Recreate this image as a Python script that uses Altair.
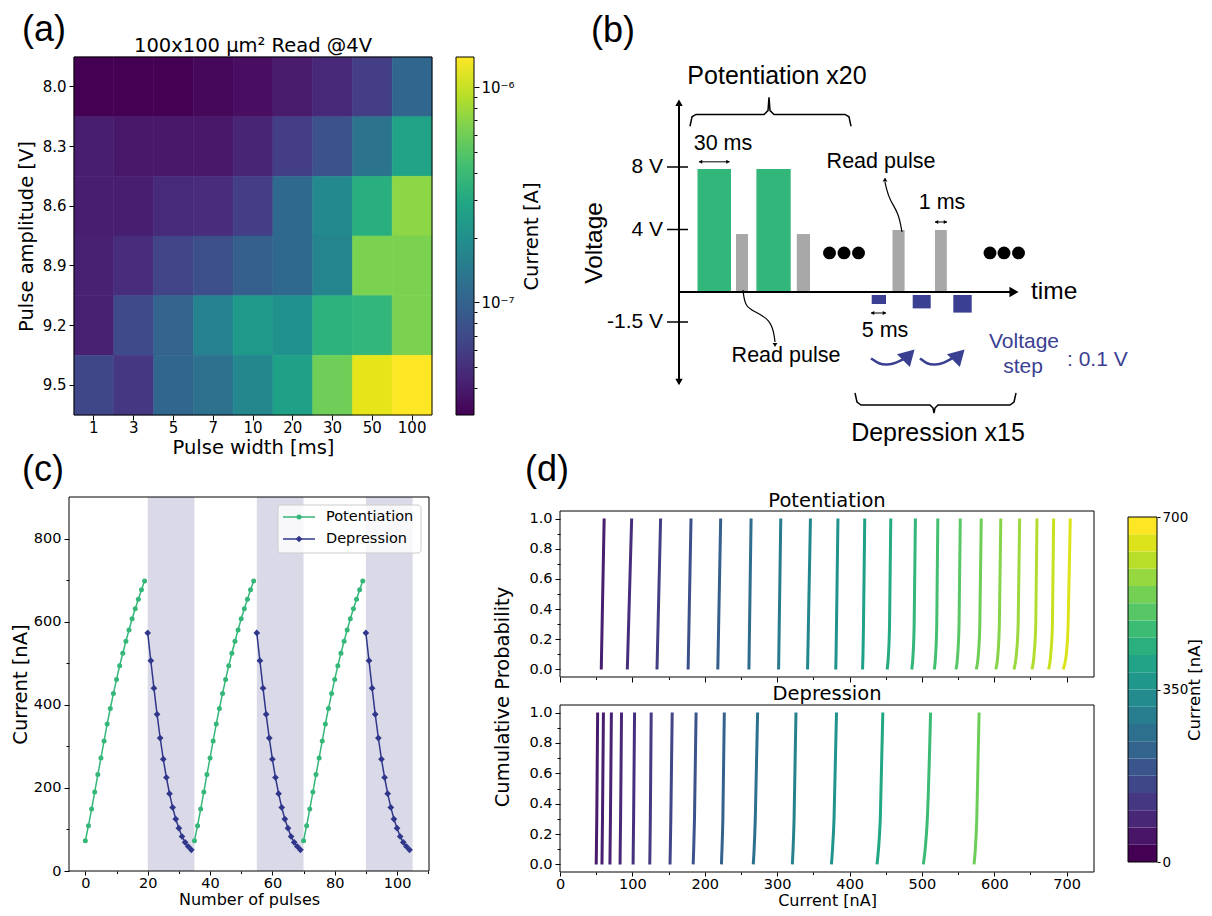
import altair as alt
import pandas as pd

W, H = 1196, 900
OFF = 8


def P(v):
    return v - OFF


DV = "DejaVu Sans"
AR = "Liberation Sans"
GREEN = "#35b779"
NAVY = "#30378a"
BLUE_B = "#3a3f92"
GRAY_B = "#a8a8a8"
SHADE = "#d9d9e8"
VIRIDIS = ["#440154", "#482475", "#414487", "#355f8d", "#2a788e", "#21918c",
           "#22a884", "#44bf70", "#7ad151", "#bddf26", "#fde725"]

# ======================= DATA =======================
# (a) heat map: read current [A]
pulse_width = ["1", "3", "5", "7", "10", "20", "30", "50", "100"]
pulse_amp = ["8.0", "8.3", "8.6", "8.9", "9.2", "9.5"]
current_80 = [3.0e-8, 3.0e-8, 3.0e-8, 3.2e-8, 3.4e-8, 3.9e-8, 4.6e-8, 6.0e-8, 1.06e-7]
current_83 = [4.1e-8, 3.8e-8, 3.8e-8, 3.8e-8, 4.4e-8, 6.0e-8, 7.8e-8, 1.29e-7, 2.77e-7]
current_86 = [4.1e-8, 4.1e-8, 4.75e-8, 4.9e-8, 6.0e-8, 1.10e-7, 1.82e-7, 3.36e-7, 7.2e-7]
current_89 = [4.2e-8, 4.9e-8, 6.45e-8, 7.5e-8, 9.5e-8, 1.10e-7, 1.69e-7, 6.45e-7, 6.45e-7]
current_92 = [4.2e-8, 7.0e-8, 1.02e-7, 1.62e-7, 2.38e-7, 2.04e-7, 3.49e-7, 3.77e-7, 6.45e-7]
current_95 = [6.7e-8, 5.5e-8, 1.06e-7, 1.24e-7, 1.75e-7, 2.67e-7, 5.98e-7, 1.19e-6, 1.38e-6]
cbar_a_range = [3.0e-8, 1.38e-6]
cbar_a_major = [1e-7, 1e-6]
cbar_a_minor = [4e-8, 5e-8, 6e-8, 7e-8, 8e-8, 9e-8, 2e-7, 3e-7, 4e-7, 5e-7, 6e-7, 7e-7, 8e-7, 9e-7]

# (b) schematic: time in arbitrary units, voltage in V
pulse_kind = ["potentiation", "read", "potentiation", "read", "read", "read",
              "depression", "depression", "depression"]
pulse_t0 = [18.5, 57, 77.4, 117.8, 213.5, 256, 192.7, 233.7, 274.3]
pulse_t1 = [52, 69, 111.7, 131, 225.6, 267.8, 207, 251.7, 292.7]
pulse_v_top = [7.87, 3.71, 7.87, 3.71, 3.97, 3.97, -0.15, -0.15, -0.15]
pulse_v_bot = [0, 0, 0, 0, 0, 0, -0.6, -0.82, -1.03]
volt_ticks = [8, 4, -1.5]
volt_tick_labels = ["8 V", "4 V", "-1.5 V"]
dots_t = [150.5, 165, 179.5, 311, 325, 339.5]
read_up_t = [223, 219.6, 210.6, 207, 206]
read_up_v = [3.84, 5.06, 5.89, 6.72, 7.04]
read_dn_t = [64, 66, 77, 91, 95, 96]
read_dn_v = [0.13, -0.75, -1.0, -1.4, -2.05, -2.5]
brace_top_t = [11, 13, 17, 85, 89, 90, 91, 95, 166, 170, 172]
brace_top_v = [10.6, 11.2, 11.35, 11.35, 11.6, 12.45, 11.6, 11.35, 11.35, 11.2, 10.6]
brace_bot_t = [176, 178, 182, 251, 254, 255, 256, 259, 331, 335, 337]
brace_bot_v = [-5.05, -5.5, -5.65, -5.65, -5.8, -6.05, -5.8, -5.65, -5.65, -5.5, -5.05]
arc1_t = [192, 200, 208, 217, 226]
arc2_t = [241, 248, 256, 265, 273]
arc_v = [-3.32, -3.6, -3.65, -3.55, -3.32]

# (c) pulse train
pot_current = [73, 109, 149, 190, 232, 272, 313, 354, 391, 427, 461, 494, 524, 553,
               580, 607, 631, 654, 677, 698]
dep_current = [573, 506, 440, 377, 320, 269, 225, 186, 153, 125, 103, 83, 69, 59, 51]
cycle_start = [0, 35, 70]
shade_start = [20, 55, 90]
shade_end = [35, 70, 105]

# (d) cumulative distributions: current [nA] at each probability level
prob_levels = [0.0, 0.1, 0.3, 1.0]
pot_cdf = [
    [57, 57.4, 58.2, 61], [93, 93.6, 94.8, 99], [134, 134.5, 135.5, 139],
    [177, 177.4, 178.2, 181], [218, 218.4, 219.2, 222], [261, 261.3, 261.9, 264],
    [302, 302.3, 302.9, 305], [342, 342.4, 343.2, 346], [381, 381.4, 382, 384],
    [418, 418.6, 419.3, 421], [452, 453.8, 455.3, 457], [486, 487.8, 489.3, 491],
    [517, 519, 520.5, 522], [547, 549.5, 551.3, 553], [575, 578, 580, 582],
    [602, 605, 607, 609], [627, 630.5, 633, 635], [652, 655, 657.3, 659],
    [675, 678, 680.3, 682], [695, 699.5, 702, 705],
]
dep_cdf = [
    [50, 50.3, 50.8, 52], [58, 58.2, 58.7, 60], [69, 69.2, 69.7, 71],
    [83, 83.2, 83.7, 85], [101, 101.2, 101.7, 103], [124, 124.3, 124.8, 126],
    [152, 152.4, 153.1, 155], [184, 184.7, 185.8, 188], [223, 223.8, 225, 227],
    [267, 268.2, 269.8, 273], [321, 322, 323.4, 326], [375, 376.5, 378.6, 382],
    [438, 440, 442.5, 446], [502, 504.5, 507.5, 512], [572, 573.8, 575.8, 579],
]
d_xlim = [0, 737.75]
d_ylim = [-0.05, 1.05]
cbar_d_edges = [0, 35, 70, 105, 140, 175, 210, 245, 280, 315, 350, 385, 420, 455,
                490, 525, 560, 595, 630, 665]
cbar_d_step = 35


# ======================= HELPERS =======================
def ax(orient, pos, **kw):
    if orient == "bottom":
        off = P(pos) - H
    elif orient == "right":
        off = P(pos) - W
    else:
        off = -P(pos)
    cfg = dict(orient=orient, offset=off, grid=False, domain=False, ticks=True,
               tickColor="black", tickSize=5, tickWidth=1,
               labelFont=DV, labelFontSize=14.5, labelColor="black", labelPadding=3,
               labelFlush=False, labelOverlap=False,
               titleFont=DV, titleFontSize=19.5, titleColor="black",
               titleFontWeight="normal")
    cfg.update(kw)
    return alt.Axis(**cfg)


ONE = pd.DataFrame({"k": [0]})


def text_at(label, x, y, size, font=DV, align="center", baseline="alphabetic",
            angle=0, color="black"):
    kw = dict(text=label, font=font, fontSize=size, align=align, baseline=baseline,
              color=color)
    if angle:
        kw["angle"] = angle
    return alt.Chart(ONE).mark_text(**kw).encode(x=alt.value(P(x)), y=alt.value(P(y)))


def frame_px(x0, x1, y0, y1, stroke="black", fill="white", fill_opacity=0.0,
             radius=0):
    kw = dict(stroke=stroke, strokeWidth=1, fill=fill, fillOpacity=fill_opacity)
    if radius:
        kw["cornerRadius"] = radius
    return alt.Chart(ONE).mark_rect(**kw).encode(
        x=alt.value(P(x0)), x2=alt.value(P(x1)), y=alt.value(P(y0)), y2=alt.value(P(y1)))


# ======================= (a) =======================
rows = []
for amp, vals in zip(pulse_amp, [current_80, current_83, current_86,
                                 current_89, current_92, current_95]):
    for w, v in zip(pulse_width, vals):
        rows.append(dict(width=w, amp=amp, current=v))
df_a = pd.DataFrame(rows)

xa = alt.Scale(domain=pulse_width, range=[P(74), P(432)], paddingInner=0, paddingOuter=0)
ya = alt.Scale(domain=pulse_amp, range=[P(57), P(415)], paddingInner=0, paddingOuter=0)
heat_scale = alt.Scale(type="log", scheme="viridis", domain=cbar_a_range)
heat = alt.Chart(df_a).mark_rect(strokeWidth=0.6).encode(
    x=alt.X("width:N", scale=xa,
            axis=ax("bottom", 415, title="Pulse width [ms]", labelAngle=0,
                    labelPadding=0, titlePadding=3, bandPosition=0.5, labelFontSize=15)),
    y=alt.Y("amp:N", scale=ya,
            axis=ax("left", 74, title="Pulse amplitude [V]", titlePadding=6,
                    bandPosition=0.5, labelFontSize=15)),
    color=alt.Color("current:Q", scale=heat_scale, legend=None),
    stroke=alt.Stroke("current:Q", scale=heat_scale, legend=None),
)
panel_a = alt.layer(heat, frame_px(74, 432, 57, 415))

df_cba = pd.DataFrame({"lo": [cbar_a_range[0]], "hi": [cbar_a_range[1]]})
ycba = alt.Scale(type="log", domain=cbar_a_range, range=[P(415), P(57)], nice=False)
grad_a = alt.Gradient(
    gradient="linear",
    stops=[alt.GradientStop(color=c, offset=i / 10) for i, c in enumerate(VIRIDIS)],
    x1=0, x2=0, y1=1, y2=0)
cba_fill = alt.Chart(df_cba).mark_rect(fill=grad_a).encode(
    x=alt.value(P(456)), x2=alt.value(P(474)),
    y=alt.Y("lo:Q", scale=ycba,
            axis=ax("right", 474, values=cbar_a_major,
                    labelExpr="datum.value > 0.0000005 ? '10⁻⁶' : '10⁻⁷'",
                    title="Current [A]", titleAngle=270, titleBaseline="top",
                    titlePadding=8, labelFontSize=15, labelPadding=2)),
    y2="hi:Q",
)
cba_minor = alt.Chart(df_cba).mark_rect(fillOpacity=0, stroke="black", strokeWidth=1).encode(
    x=alt.value(P(456)), x2=alt.value(P(474)),
    y=alt.Y("lo:Q", scale=ycba,
            axis=ax("right", 474, values=cbar_a_minor, labels=False, tickSize=3,
                    title=None)),
    y2="hi:Q",
)
cbar_a = alt.layer(cba_fill, cba_minor).resolve_axis(y="independent")

# ======================= (b) =======================
xb = alt.Scale(domain=[0, 339], range=[P(679), P(1018)], nice=False, zero=False)
yb = alt.Scale(domain=[-4.8, -1.5, 0, 8, 12.4],
               range=[P(388), P(322), P(292), P(167), P(98)], nice=False, zero=False)


def bx(f="t"):
    return alt.X(f"{f}:Q", scale=xb, axis=None)


def by(f="v"):
    return alt.Y(f"{f}:Q", scale=yb, axis=None)


df_pulses = pd.DataFrame(dict(kind=pulse_kind, t0=pulse_t0, t1=pulse_t1,
                              v0=pulse_v_bot, v1=pulse_v_top))
b_bars = alt.Chart(df_pulses).mark_rect().encode(
    x=bx("t0"), x2="t1:Q", y=by("v0"), y2="v1:Q",
    color=alt.Color("kind:N", scale=alt.Scale(domain=["potentiation", "read", "depression"],
                                              range=["#33b679", GRAY_B, BLUE_B]),
                    legend=None))


def b_seg(t0, t1, v0, v1, width, color="black"):
    df = pd.DataFrame(dict(t0=t0, t1=t1, v0=v0, v1=v1))
    return alt.Chart(df).mark_rule(strokeWidth=width, color=color).encode(
        x=bx("t0"), x2="t1:Q", y=by("v0"), y2="v1:Q")


b_axes = b_seg([0, 0], [0, 333], [-4.6, 0], [12.2, 0], 2)
b_ticks = b_seg([-12] * 3, [9] * 3, volt_ticks, volt_ticks, 1.5)
b_dims = b_seg([20, 256, 192], [50.5, 268, 207], [8.33, 4.48, -1.05], [8.33, 4.48, -1.05], 1)


def b_heads(ts, vs, shape, size, color="black", angle=0):
    kw = dict(shape=shape, size=size, filled=True, opacity=1, color=color, strokeWidth=0)
    if angle:
        kw["angle"] = angle
    return alt.Chart(pd.DataFrame(dict(t=ts, v=vs))).mark_point(**kw).encode(
        x=bx(), y=by())


heads = [
    b_heads([0], [12.1], "triangle-up", 55),
    b_heads([0], [-4.5], "triangle-down", 55),
    b_heads([335], [0], "triangle-right", 110),
    b_heads([21.5, 257.5, 193.5], [8.33, 4.48, -1.05], "triangle-left", 16),
    b_heads([49, 266.5, 205.5], [8.33, 4.48, -1.05], "triangle-right", 16),
    b_heads([206], [7.2], "triangle-up", 22),
    b_heads([96], [-2.65], "triangle-down", 22),
    b_heads([230, 280], [-3.15, -3.15], "triangle-up", 330, color=BLUE_B, angle=45),
]


def b_path(ts, vs, width, color="black", interp="linear"):
    df = pd.DataFrame(dict(t=ts, v=vs, i=list(range(len(ts)))))
    return alt.Chart(df).mark_line(strokeWidth=width, color=color,
                                   interpolate=interp).encode(x=bx(), y=by(), order="i:Q")


paths = [
    b_path(brace_top_t, brace_top_v, 1.5),
    b_path(brace_bot_t, brace_bot_v, 1.5),
    b_path(read_up_t, read_up_v, 1.2, interp="basis"),
    b_path(read_dn_t, read_dn_v, 1.2, interp="basis"),
    b_path(arc1_t, arc_v, 2.5, BLUE_B, interp="basis"),
    b_path(arc2_t, arc_v, 2.5, BLUE_B, interp="basis"),
]

b_dots = alt.Chart(pd.DataFrame(dict(t=dots_t, v=[2.5] * len(dots_t)))).mark_point(
    shape="circle", size=165, filled=True, opacity=1, color="black", strokeWidth=0).encode(
    x=bx(), y=by())


def b_text(label, t, v, size, color="black", align="center", angle=0):
    kw = dict(font=AR, fontSize=size, color=color, align=align, baseline="middle")
    if angle:
        kw["angle"] = angle
    return alt.Chart(pd.DataFrame(dict(t=[t], v=[v], s=[label]))).mark_text(**kw).encode(
        x=bx(), y=by(), text="s:N")


b_tick_labels = alt.Chart(pd.DataFrame(dict(t=[-16] * 3, v=volt_ticks, s=volt_tick_labels))
                          ).mark_text(font=AR, fontSize=21, align="right", baseline="middle",
                                      color="black").encode(x=bx(), y=by(), text="s:N")

b_texts = [
    b_tick_labels,
    b_text("Voltage", -84, 3.14, 24.5, angle=270),
    b_text("time", 352, 0, 24.5, align="left"),
    b_text("Potentiation x20", 98, 13.78, 25),
    b_text("Depression x15", 259, -7.05, 25),
    b_text("30 ms", 44, 9.49, 21.5),
    b_text("Read pulse", 202, 8.33, 21.5),
    b_text("1 ms", 263, 5.7, 21.5),
    b_text("Read pulse", 107, -3.2, 21.5),
    b_text("5 ms", 206, -1.95, 21.5),
    b_text("Voltage", 345, -2.5, 21, color=BLUE_B),
    b_text("step", 344, -3.75, 21, color=BLUE_B),
    b_text(": 0.1 V", 388, -3.4, 21, color=BLUE_B, align="left"),
]

panel_b = alt.layer(b_bars, b_axes, b_ticks, b_dims, *paths, *heads, b_dots, *b_texts)

# ======================= (c) =======================
rows = []
for c, s in enumerate(cycle_start):
    for i, v in enumerate(pot_current):
        rows.append(dict(pulse=s + i, current=v, series="Potentiation", grp=f"P{c}"))
    for j, v in enumerate(dep_current):
        rows.append(dict(pulse=s + 20 + j, current=v, series="Depression", grp=f"D{c}"))
df_c = pd.DataFrame(rows)

xc = alt.Scale(domain=[-5.25, 110.25], range=[P(69), P(429)], nice=False, zero=False)
yc = alt.Scale(domain=[0, 900], range=[P(871), P(497)], nice=False, zero=False)
series_scale = alt.Scale(domain=["Potentiation", "Depression"], range=[GREEN, NAVY])

c_shade = alt.Chart(pd.DataFrame(dict(s=shade_start, e=shade_end))).mark_rect(
    color=SHADE).encode(
    x=alt.X("s:Q", scale=xc, axis=None), x2="e:Q",
    y=alt.value(P(497)), y2=alt.value(P(871)))
c_lines = alt.Chart(df_c).mark_line(strokeWidth=1.5).encode(
    x=alt.X("pulse:Q", scale=xc,
            axis=ax("bottom", 871, values=[0, 20, 40, 60, 80, 100],
                    title="Number of pulses", tickSize=4, labelPadding=1,
                    titlePadding=1.5, titleFontSize=16)),
    y=alt.Y("current:Q", scale=yc,
            axis=ax("left", 69, values=[0, 200, 400, 600, 800], title="Current [nA]",
                    titlePadding=3)),
    color=alt.Color("series:N", scale=series_scale, legend=None),
    detail="grp:N")
c_pot = alt.Chart(df_c[df_c.series == "Potentiation"]).mark_point(
    shape="circle", size=25, filled=True, opacity=1, color=GREEN, strokeWidth=0).encode(
    x=alt.X("pulse:Q", scale=xc, axis=None), y=alt.Y("current:Q", scale=yc, axis=None))
c_dep = alt.Chart(df_c[df_c.series == "Depression"]).mark_point(
    shape="diamond", size=45, filled=True, opacity=1, color=NAVY, strokeWidth=0).encode(
    x=alt.X("pulse:Q", scale=xc, axis=None), y=alt.Y("current:Q", scale=yc, axis=None))
c_frame = alt.Chart(pd.DataFrame(dict(x0=[-5.25], x1=[110.25], y0=[0], y1=[900]))).mark_rect(
    fillOpacity=0, stroke="black", strokeWidth=1).encode(
    x=alt.X("x0:Q", scale=xc, axis=ax("bottom", 871, values=[10, 30, 50, 70, 90, 110],
                                       labels=False, tickSize=2.5, title=None)),
    x2="x1:Q",
    y=alt.Y("y0:Q", scale=yc, axis=ax("left", 69, values=[100, 300, 500, 700],
                                       labels=False, tickSize=3, title=None)),
    y2="y1:Q")

leg_box = frame_px(278, 421, 505, 553, stroke="#cccccc", fill="white", fill_opacity=0.8,
                   radius=3)


def leg_entry(label, y, color, shape, size):
    line = alt.Chart(ONE).mark_rule(color=color, strokeWidth=1.5).encode(
        x=alt.value(P(283)), x2=alt.value(P(315)), y=alt.value(P(y)))
    pt = alt.Chart(ONE).mark_point(shape=shape, size=size, filled=True, opacity=1,
                                   color=color, strokeWidth=0).encode(
        x=alt.value(P(299)), y=alt.value(P(y)))
    tx = text_at(label, 326, y, 14.5, align="left", baseline="middle")
    return [line, pt, tx]


panel_c = alt.layer(
    c_shade, c_lines, c_pot, c_dep, c_frame, leg_box,
    *leg_entry("Potentiation", 517, GREEN, "circle", 25),
    *leg_entry("Depression", 539, NAVY, "diamond", 45),
).resolve_axis(x="independent", y="independent")

# ======================= (d) =======================
xd = alt.Scale(domain=d_xlim, range=[P(560), P(1094)], nice=False, zero=False)
ydt = alt.Scale(domain=d_ylim, range=[P(677), P(511)], nice=False, zero=False)
ydb = alt.Scale(domain=d_ylim, range=[P(872), P(705)], nice=False, zero=False)
cd = alt.Scale(scheme="viridis", domain=[0, 740])


def cdf_df(curves):
    rows = []
    for k, xs in enumerate(curves):
        lvl = sum(xs) / len(xs)
        for p, x in zip(prob_levels, xs):
            rows.append(dict(curve=k, p=p, cur=x, level=lvl))
    return pd.DataFrame(rows)


frame_d = pd.DataFrame(dict(x0=[d_xlim[0]], x1=[d_xlim[1]], y0=[d_ylim[0]], y1=[d_ylim[1]]))


def cdf_panel(df, yscale, bottom, show_x):
    xaxis_kw = dict(values=[0, 100, 200, 300, 400, 500, 600, 700], format="d")
    if show_x:
        xaxis_kw.update(title="Current [nA]", tickSize=4, labelPadding=1, titlePadding=1.5,
                        titleFontSize=16)
    else:
        xaxis_kw.update(labels=False, title=None)
    lines = alt.Chart(df).mark_line(strokeWidth=3, interpolate="monotone").encode(
        x=alt.X("cur:Q", scale=xd, axis=ax("bottom", bottom, **xaxis_kw)),
        y=alt.Y("p:Q", scale=yscale,
                axis=ax("left", 560, values=[0, 0.2, 0.4, 0.6, 0.8, 1.0], format=".1f",
                        title=None)),
        order="p:Q", detail="curve:N",
        color=alt.Color("level:Q", scale=cd, legend=None))
    fr = alt.Chart(frame_d).mark_rect(fillOpacity=0, stroke="black", strokeWidth=1).encode(
        x=alt.X("x0:Q", scale=xd,
                axis=ax("bottom", bottom, values=[50, 150, 250, 350, 450, 550, 650],
                        labels=False, tickSize=2.5, title=None)),
        x2="x1:Q",
        y=alt.Y("y0:Q", scale=yscale,
                axis=ax("left", 560, values=[0.1, 0.3, 0.5, 0.7, 0.9], labels=False,
                        tickSize=3, title=None)),
        y2="y1:Q")
    return alt.layer(lines, fr).resolve_axis(x="independent", y="independent")


panel_d_top = cdf_panel(cdf_df(pot_cdf), ydt, 677, False)
panel_d_bot = cdf_panel(cdf_df(dep_cdf), ydb, 872, True)

df_cbd = pd.DataFrame(dict(lo=cbar_d_edges, hi=[e + cbar_d_step for e in cbar_d_edges]))
ycbd = alt.Scale(domain=[0, 700], range=[P(862), P(517)], nice=False, zero=False)
cbd = alt.Chart(df_cbd).mark_rect().encode(
    x=alt.value(P(1128)), x2=alt.value(P(1157)),
    y=alt.Y("lo:Q", scale=ycbd,
            axis=ax("right", 1157, values=[0, 350, 700], title=None, tickSize=3,
                    labelPadding=2, labelFontSize=13.5)),
    y2="hi:Q",
    color=alt.Color("lo:Q", scale=alt.Scale(scheme="viridis", domain=[0, 665]), legend=None))
cbar_d = alt.layer(cbd, frame_px(1128, 1157, 517, 862))

# ======================= TEXT =======================
texts = [
    text_at("(a)", 22, 41, 36, font=AR, align="left"),
    text_at("(b)", 591, 42, 36, font=AR, align="left"),
    text_at("(c)", 22, 481, 36, font=AR, align="left"),
    text_at("(d)", 525, 481, 36, font=AR, align="left"),
    text_at("100x100 µm² Read @4V", 253, 52, 19.5),
    text_at("Potentiation", 827, 507, 19.5),
    text_at("Depression", 827, 700, 19.5),
    text_at("Cumulative Probability", 503, 697, 19.5, baseline="middle", angle=270),
    text_at("Current [nA]", 1195, 690, 16.5, baseline="middle", angle=270),
]

chart = alt.layer(
    panel_a, cbar_a, panel_b, panel_c, panel_d_top, panel_d_bot, cbar_d, *texts
).resolve_scale(
    x="independent", y="independent", color="independent", stroke="independent"
).properties(
    width=W, height=H, padding=0, autosize=alt.AutoSizeParams(type="none")
).configure_view(strokeWidth=0)

chart.save("out.html", embed_options={"renderer": "svg", "actions": False})
